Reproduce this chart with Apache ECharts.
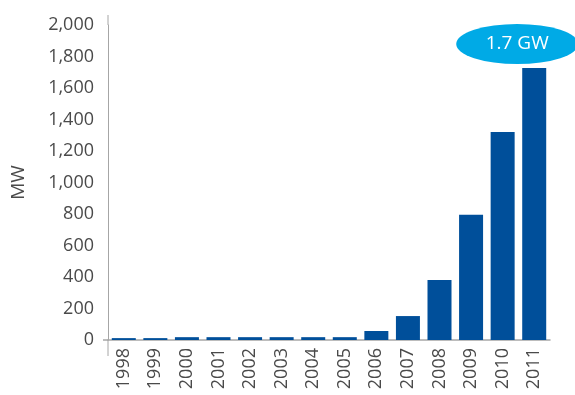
<!DOCTYPE html>
<html><head><meta charset="utf-8">
<script src="https://cdn.jsdelivr.net/npm/echarts@6/dist/echarts.min.js"></script>
<style>html,body{margin:0;padding:0;background:#fff}#c{width:575px;height:395px}</style>
</head><body><div id="c"></div>
<script>
const years = ['1998','1999','2000','2001','2002','2003','2004','2005','2006','2007','2008','2009','2010','2011'];
const mw = [12, 12, 18, 18, 18, 18, 18, 18, 57, 152, 381, 795, 1320, 1727];
const yTicks = [0, 200, 400, 600, 800, 1000, 1200, 1400, 1600, 1800, 2000];
const annotation = '1.7 GW';

const chart = echarts.init(document.getElementById('c'));
const font = '"Open Sans", "Noto Sans", sans-serif';
chart.setOption({
  animation: false,
  grid: { left: 108, right: 25, top: 25, bottom: 55 },
  xAxis: {
    type: 'category', data: years,
    axisLine: { show: true, lineStyle: { color: '#a6a6a6', width: 1.5 } },
    axisTick: { show: false },
    axisLabel: { rotate: 90, color: '#4a4a4a', fontSize: 18, fontFamily: font, fontWeight: 400, margin: 8 }
  },
  yAxis: {
    type: 'value', min: yTicks[0], max: yTicks[yTicks.length - 1], interval: 200,
    name: 'MW', nameLocation: 'middle', nameGap: 80, nameRotate: 90,
    nameTextStyle: { color: '#4a4a4a', fontSize: 19, fontFamily: font, fontWeight: 400 },
    axisLine: { show: true, lineStyle: { color: '#a6a6a6', width: 1 } },
    axisTick: { show: false },
    splitLine: { show: false },
    axisLabel: {
      color: '#4a4a4a', fontSize: 18, fontFamily: font, fontWeight: 400, margin: 14,
      formatter: v => v.toLocaleString('en-US')
    }
  },
  graphic: [
    { type: 'line', shape: { x1: 108, y1: 15, x2: 108, y2: 25 }, style: { stroke: '#a6a6a6', lineWidth: 1 } },
    { type: 'line', shape: { x1: 108, y1: 340, x2: 108, y2: 356 }, style: { stroke: '#a6a6a6', lineWidth: 1 } },
    { type: 'line', shape: { x1: 103, y1: 340, x2: 108, y2: 340 }, style: { stroke: '#a6a6a6', lineWidth: 1.5 } }
  ],
  series: [{
    type: 'bar', data: mw, barWidth: 24,
    itemStyle: { color: '#004f9a' },
    markPoint: {
      symbol: 'circle', symbolSize: [122, 40], symbolOffset: [-17, -24],
      itemStyle: { color: '#00aae6' },
      label: { show: true, formatter: annotation, color: '#fff', fontSize: 19, fontFamily: font, fontWeight: 400 },
      data: [{ coord: [years.length - 1, mw[mw.length - 1]] }]
    }
  }]
});
</script></body></html>
